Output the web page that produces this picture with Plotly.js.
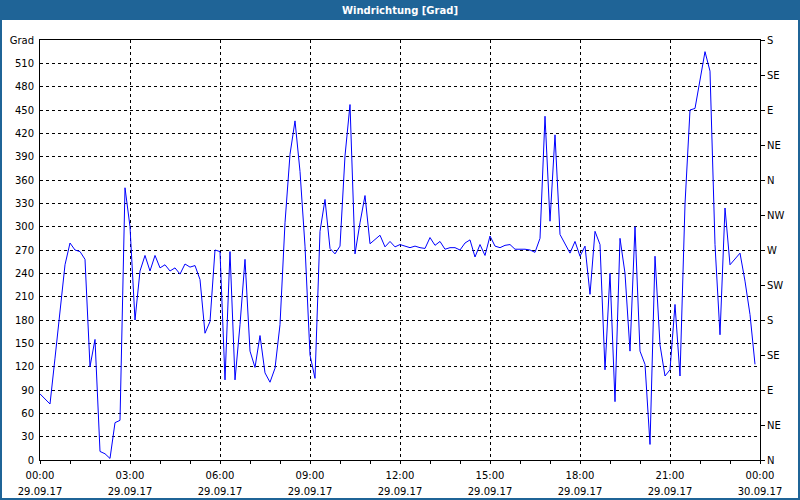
<!DOCTYPE html>
<html>
<head>
<meta charset="utf-8">
<script src="https://cdn.plot.ly/plotly-3.0.1.min.js"></script>
<style>
html,body{margin:0;padding:0;background:#fff;}
#chart{width:800px;height:500px;}
</style>
</head>
<body>
<div id="chart"></div>
<script>
const times = [
"00:00","00:10","00:20","00:30","00:40","00:50","01:00","01:10","01:20","01:30","01:40","01:50",
"02:00","02:10","02:20","02:30","02:40","02:50","03:00","03:10","03:20","03:30","03:40","03:50",
"04:00","04:10","04:20","04:30","04:40","04:50","05:00","05:10","05:20","05:30","05:40","05:50",
"06:00","06:10","06:20","06:30","06:40","06:50","07:00","07:10","07:20","07:30","07:40","07:50",
"08:00","08:10","08:20","08:30","08:40","08:50","09:00","09:10","09:20","09:30","09:40","09:50",
"10:00","10:10","10:20","10:30","10:40","10:50","11:00","11:10","11:20","11:30","11:40","11:50",
"12:00","12:10","12:20","12:30","12:40","12:50","13:00","13:10","13:20","13:30","13:40","13:50",
"14:00","14:10","14:20","14:30","14:40","14:50","15:00","15:10","15:20","15:30","15:40","15:50",
"16:00","16:10","16:20","16:30","16:40","16:50","17:00","17:10","17:20","17:30","17:40","17:50",
"18:00","18:10","18:20","18:30","18:40","18:50","19:00","19:10","19:20","19:30","19:40","19:50",
"20:00","20:10","20:20","20:30","20:40","20:50","21:00","21:10","21:20","21:30","21:40","21:50",
"22:00","22:10","22:20","22:30","22:40","22:50","23:00","23:10","23:20","23:30","23:40","23:50"
];
const windDir = [
85,78,72,131,187,251,279,270,268,258,120,155,
11,8,2,48,51,350,300,180,243,263,243,263,
247,251,243,247,239,252,248,250,232,163,178,270,
268,103,268,103,174,258,140,119,160,112,100,118,
174,305,393,436,371,275,135,105,294,335,272,265,
275,391,457,265,305,340,278,283,289,274,281,274,
277,275,273,275,273,272,286,276,281,271,273,273,
270,279,283,261,277,263,288,275,273,276,277,271,
271,271,270,267,285,442,307,418,290,277,266,281,
262,275,213,294,277,116,240,75,285,240,140,300,
140,123,20,262,148,108,116,200,108,329,450,452,
487,525,500,277,161,324,251,259,266,230,187,123
];
const xTickHours = [0,3,6,9,12,15,18,21,24];
const xTickTimes = ["00:00","03:00","06:00","09:00","12:00","15:00","18:00","21:00","00:00"];
const xTickDates = ["29.09.17","29.09.17","29.09.17","29.09.17","29.09.17","29.09.17","29.09.17","29.09.17","30.09.17"];
const leftTickVals = [0,30,60,90,120,150,180,210,240,270,300,330,360,390,420,450,480,510,540];
const leftTickText = ["0","30","60","90","120","150","180","210","240","270","300","330","360","390","420","450","480","510","Grad"];
const compassVals = [0,45,90,135,180,225,270,315,360,405,450,495,540];
const compassText = ["N","NE","E","SE","S","SW","W","NW","N","NE","E","SE","S"];

const hours = times.map(t => { const p = t.split(":"); return +p[0] + (+p[1])/60; });
const font = {family: "DejaVu Sans, Verdana, sans-serif", size: 10, color: "#000"};
const blue = "#1f6497";

const traces = [
  {x: hours, y: windDir, type: "scatter", mode: "lines",
   line: {color: "#0000ff", width: 1}, hoverinfo: "skip", showlegend: false},
  {x: hours, y: windDir, type: "scatter", mode: "lines", xaxis: "x2", yaxis: "y2",
   line: {color: "rgba(0,0,0,0)", width: 0}, hoverinfo: "skip", showlegend: false}
];

const L = 40, R = 40, T = 40, B = 40, W = 800, H = 500;
const pw = W - L - R, ph = H - T - B;
function px2x(p){ return (p - L) / pw; }
function py2y(p){ return (H - B - p) / ph; }

const layout = {
  width: W, height: H,
  margin: {l: L, r: R, t: T, b: B, pad: 0},
  paper_bgcolor: "#ffffff", plot_bgcolor: "#ffffff",
  font: font,
  showlegend: false,
  title: {text: "<b>Windrichtung [Grad]</b>", font: {family: "DejaVu Sans, Verdana, sans-serif", size: 10, color: "#ffffff"},
          x: 0.5, xref: "container", xanchor: "center", y: 1 - 10/H, yref: "container", yanchor: "middle"},
  xaxis: {
    range: [0, 24], fixedrange: true,
    tickvals: xTickHours, ticktext: xTickTimes,
    ticks: "outside", ticklen: 3, tickcolor: "#000",
    minor: {dtick: 1, tick0: 0, ticks: "outside", ticklen: 3, tickcolor: "#000", showgrid: false},
    showline: true, linecolor: "#000", linewidth: 1, mirror: true,
    showgrid: true, gridcolor: "#000", gridwidth: 1, griddash: "3px,3px",
    zeroline: false, tickfont: font, ticklabelstandoff: 3
  },
  xaxis2: {
    range: [0, 24], fixedrange: true, overlaying: "x", anchor: "y", side: "bottom",
    tickvals: xTickHours, ticktext: xTickDates,
    ticks: "outside", ticklen: 3, tickcolor: "rgba(0,0,0,0)",
    showline: false, showgrid: false, zeroline: false,
    tickfont: font, ticklabelstandoff: 19
  },
  yaxis: {
    range: [0, 540], fixedrange: true,
    tickvals: leftTickVals, ticktext: leftTickText,
    ticks: "", showline: true, linecolor: "#000", linewidth: 1, mirror: true,
    showgrid: true, gridcolor: "#000", gridwidth: 1, griddash: "3px,3px",
    zeroline: false, tickfont: font, ticklabelstandoff: 3
  },
  yaxis2: {
    range: [0, 540], fixedrange: true, overlaying: "y", side: "right", anchor: "x",
    tickvals: compassVals, ticktext: compassText,
    ticks: "outside", ticklen: 4, tickcolor: "#000",
    showline: true, linecolor: "#000", linewidth: 1,
    showgrid: false, zeroline: false, tickfont: font, ticklabelstandoff: 0
  },
  shapes: [
    {type: "rect", xref: "paper", yref: "paper", layer: "below",
     x0: px2x(0), x1: px2x(W), y0: py2y(20), y1: py2y(0),
     fillcolor: blue, line: {width: 0}},
    {type: "rect", xref: "paper", yref: "paper", layer: "above",
     x0: px2x(1), x1: px2x(W - 1), y0: py2y(H - 1), y1: py2y(1),
     fillcolor: "rgba(0,0,0,0)", line: {color: blue, width: 2}}
  ]
};

Plotly.newPlot("chart", traces, layout, {displayModeBar: false, staticPlot: true});
</script>
</body>
</html>
